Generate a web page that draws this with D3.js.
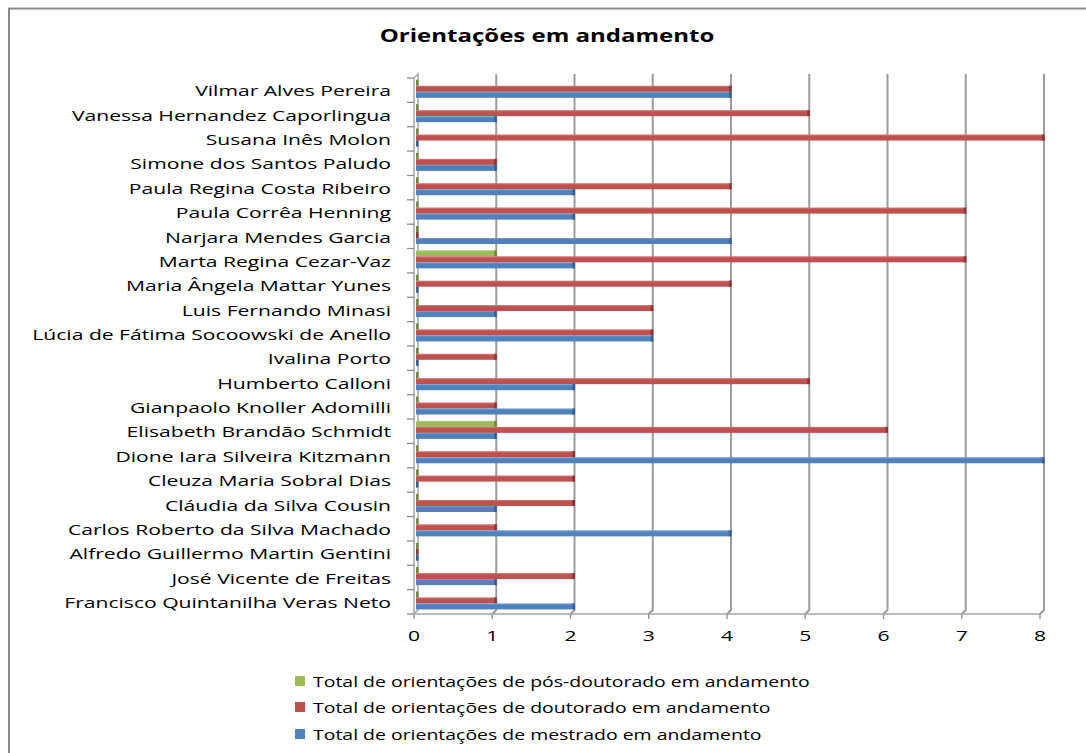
<!DOCTYPE html>
<html>
<head>
<meta charset="utf-8">
<script src="https://cdn.jsdelivr.net/npm/d3@7"></script>
<style>
  body { margin: 0; background: #fff; }
  text { font-family: "Open Sans", sans-serif; fill: #000; }
</style>
</head>
<body>
<svg id="chart" width="1086" height="753"></svg>
<script>
// orientadores, de cima para baixo
var names = [
  "Vilmar Alves Pereira",
  "Vanessa Hernandez Caporlingua",
  "Susana Inês Molon",
  "Simone dos Santos Paludo",
  "Paula Regina Costa Ribeiro",
  "Paula Corrêa Henning",
  "Narjara Mendes Garcia",
  "Marta Regina Cezar-Vaz",
  "Maria Ângela Mattar Yunes",
  "Luis Fernando Minasi",
  "Lúcia de Fátima Socoowski de Anello",
  "Ivalina Porto",
  "Humberto Calloni",
  "Gianpaolo Knoller Adomilli",
  "Elisabeth Brandão Schmidt",
  "Dione Iara Silveira Kitzmann",
  "Cleuza Maria Sobral Dias",
  "Cláudia da Silva Cousin",
  "Carlos Roberto da Silva Machado",
  "Alfredo Guillermo Martin Gentini",
  "José Vicente de Freitas",
  "Francisco Quintanilha Veras Neto"
];

var posDoutorado = [0, 0, 0, 0, 0, 0, 0, 1, 0, 0, 0, 0, 0, 0, 1, 0, 0, 0, 0, 0, 0, 0];
var doutorado    = [4, 5, 8, 1, 4, 7, 0, 7, 4, 3, 3, 1, 5, 1, 6, 2, 2, 2, 1, 0, 2, 1];
var mestrado     = [4, 1, 0, 1, 2, 2, 4, 2, 0, 1, 3, 0, 2, 2, 1, 8, 0, 1, 4, 0, 1, 2];

var seriesLabels = [
  "Total de orientações de pós-doutorado em andamento",
  "Total de orientações de doutorado em andamento",
  "Total de orientações de mestrado em andamento"
];

var xTicks = [0, 1, 2, 3, 4, 5, 6, 7, 8];

var colors = ["#9bbb59", "#c0504d", "#4f81bd"];
var capColors = ["#6f8a3c", "#8c3533", "#345f92"];

var series = [posDoutorado, doutorado, mestrado];

var margin = { top: 78, bottom: 614, left: 414, right: 1040 };
var depth = 4;

var svg = d3.select("#chart");

// moldura do gráfico
svg.append("rect")
  .attr("x", 9).attr("y", 8.5)
  .attr("width", 1100).attr("height", 800)
  .attr("fill", "none")
  .attr("stroke", "#8a8a8a")
  .attr("stroke-width", 2);

var x = d3.scaleLinear().domain([0, 8]).range([margin.left, margin.right]);

var y = d3.scaleBand().domain(names).range([margin.top, margin.bottom]);

var ySub = d3.scaleBand().domain([0, 1, 2]).range([1.8, 1.8 + 18]);

var grid = svg.append("g");

// linhas de grade na parede do fundo + piso
xTicks.forEach(function(v) {
  if (v === 0) return;
  grid.append("path")
    .attr("d", d3.line()([
      [x(v) + depth, margin.top - depth],
      [x(v) + depth, margin.bottom - depth],
      [x(v), margin.bottom]
    ]))
    .attr("fill", "none")
    .attr("stroke", "#9c9c9c")
    .attr("stroke-width", 2);
});

// parede lateral
grid.append("path")
  .attr("d", d3.line()([
    [x(0), margin.bottom],
    [x(0), margin.top],
    [x(0) + depth, margin.top - depth],
    [x(0) + depth, margin.bottom - depth],
    [x(0), margin.bottom]
  ]))
  .attr("fill", "none")
  .attr("stroke", "#a6a6a6")
  .attr("stroke-width", 1.5);

// linha frontal do piso
grid.append("line")
  .attr("x1", x(0)).attr("x2", x(8))
  .attr("y1", margin.bottom).attr("y2", margin.bottom)
  .attr("stroke", "#a6a6a6").attr("stroke-width", 1.5);

// marcas do eixo x
grid.selectAll(".xtick").data(xTicks).enter().append("line")
  .attr("x1", function(d) { return x(d); })
  .attr("x2", function(d) { return x(d); })
  .attr("y1", margin.bottom).attr("y2", margin.bottom + 5)
  .attr("stroke", "#9c9c9c").attr("stroke-width", 1.5);

// marcas do eixo de categorias
var bounds = names.map(function(n) { return y(n); }).concat([margin.bottom]);
grid.selectAll(".ytick").data(bounds).enter().append("line")
  .attr("x1", x(0) - 7).attr("x2", x(0))
  .attr("y1", function(d) { return d; })
  .attr("y2", function(d) { return d; })
  .attr("stroke", "#8c8c8c").attr("stroke-width", 1.3);

// barras
var bars = svg.append("g");
series.forEach(function(vals, s) {
  names.forEach(function(n, i) {
    var v = vals[i];
    var y0 = y(n) + ySub(s);
    var h = ySub.bandwidth();
    var x0 = x(0) + 2;
    var x1 = x(v) + 4.5;
    if (v > 0) {
      bars.append("rect")
        .attr("x", x0).attr("y", y0)
        .attr("width", x1 - x0).attr("height", h)
        .attr("fill", colors[s]);
      bars.append("rect")
        .attr("x", x0).attr("y", y0)
        .attr("width", x1 - x0).attr("height", 1.2)
        .attr("fill", "#fff").attr("opacity", 0.18);
      bars.append("rect")
        .attr("x", x1 - 2.5).attr("y", y0)
        .attr("width", 2.5).attr("height", h)
        .attr("fill", capColors[s]);
    } else {
      bars.append("rect")
        .attr("x", x0).attr("y", y0)
        .attr("width", 2.5).attr("height", h)
        .attr("fill", capColors[s]);
    }
  });
});

// rótulos das categorias
var labels = svg.append("g");
var labelNodes = labels.selectAll("text").data(names).enter().append("text")
  .attr("text-anchor", "end")
  .attr("dominant-baseline", "central")
  .style("font-size", "15px")
  .text(function(d) { return d; });

// escala horizontal para imitar a fonte larga do original
var refNode = labelNodes.filter(function(d) { return d === "Francisco Quintanilha Veras Neto"; }).node();
var sx = 327 / refNode.getComputedTextLength();

labelNodes.attr("transform", function(d) {
  return "translate(391," + (y(d) + y.bandwidth() / 2) + ") scale(" + sx + ",1)";
});

// rótulos do eixo x
svg.append("g").selectAll("text").data(xTicks).enter().append("text")
  .attr("text-anchor", "middle")
  .attr("dominant-baseline", "central")
  .style("font-size", "15px")
  .attr("transform", function(d) {
    return "translate(" + x(d) + ",635) scale(" + sx + ",1)";
  })
  .text(function(d) { return d; });

// título
var title = svg.append("text")
  .attr("text-anchor", "middle")
  .attr("dominant-baseline", "central")
  .style("font-size", "17px")
  .style("font-weight", "bold")
  .text("Orientações em andamento");
var tsx = 335 / title.node().getComputedTextLength();
title.attr("transform", "translate(547,35) scale(" + tsx + ",1)");

// legenda
var legendY = [681, 707, 734];
var legend = svg.append("g");
var legendTexts = [];
seriesLabels.forEach(function(lbl, i) {
  legend.append("rect")
    .attr("x", 295).attr("y", legendY[i] - 5)
    .attr("width", 10).attr("height", 10)
    .attr("fill", colors[i]);
  legendTexts.push(legend.append("text")
    .attr("text-anchor", "start")
    .attr("dominant-baseline", "central")
    .style("font-size", "15px")
    .text(lbl));
});
var lsx = 497 / legendTexts[0].node().getComputedTextLength();
legendTexts.forEach(function(t, i) {
  t.attr("transform", "translate(313," + legendY[i] + ") scale(" + lsx + ",1)");
});
</script>
</body>
</html>
